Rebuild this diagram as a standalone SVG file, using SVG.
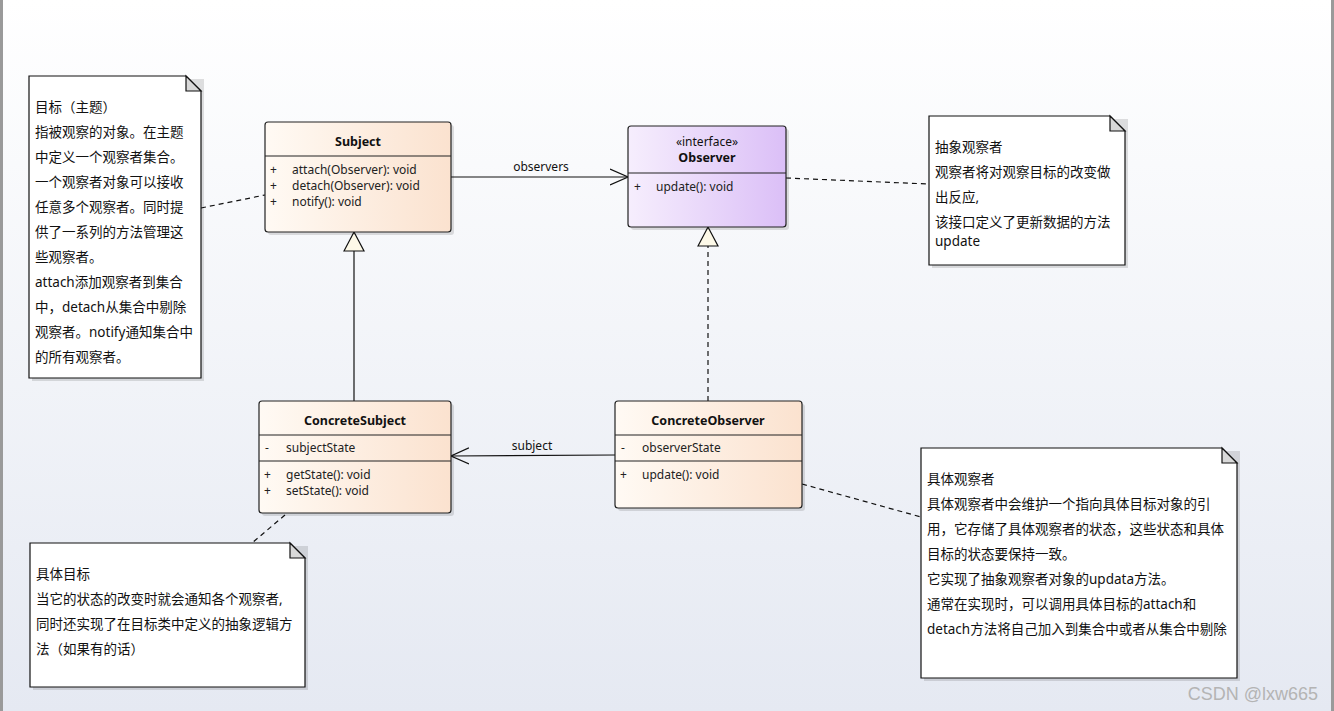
<svg xmlns="http://www.w3.org/2000/svg" width="1334" height="711" viewBox="0 0 1334 711">
<defs>
<linearGradient id="bg" x1="0" y1="0" x2="0" y2="1">
<stop offset="0" stop-color="#ffffff"/>
<stop offset="1" stop-color="#e5e9f2"/>
</linearGradient>
<linearGradient id="peach" x1="0" y1="0" x2="1" y2="0">
<stop offset="0" stop-color="#fffaf4"/>
<stop offset="1" stop-color="#fbe2cf"/>
</linearGradient>
<linearGradient id="lav" x1="0" y1="0" x2="1" y2="0">
<stop offset="0" stop-color="#f6eefd"/>
<stop offset="1" stop-color="#dbbff7"/>
</linearGradient>
<marker id="open" viewBox="0 0 20 20" refX="18" refY="10" markerWidth="20" markerHeight="20" markerUnits="userSpaceOnUse" orient="auto">
<path d="M0,2 L18,10 L0,18" fill="none" stroke="#111" stroke-width="1.3"/>
</marker>
<marker id="tri" viewBox="0 0 22 22" refX="20" refY="11" markerWidth="22" markerHeight="22" markerUnits="userSpaceOnUse" orient="auto">
<path d="M1,1 L20,11 L1,21 Z" fill="#fdf9e8" stroke="#111" stroke-width="1.2"/>
</marker>
</defs>
<style>
.cls{stroke:#222;stroke-width:1.2}
.shadow{fill:#000;opacity:0.12}
.name{font-family:"Noto Sans","Liberation Sans",sans-serif;font-size:12.5px;font-weight:bold;fill:#111;text-anchor:middle}
.st{font-family:"Noto Sans","Liberation Sans",sans-serif;font-size:12px;font-style:normal;fill:#111;text-anchor:middle}
.m{font-family:"Noto Sans","Liberation Sans",sans-serif;font-size:12px;fill:#222}
.note{fill:#fff;stroke:#111;stroke-width:1.2}
.fold{fill:#d9d9d9;stroke:#111;stroke-width:1.2}
.nt{font-family:"Noto Sans","Noto Sans CJK SC",sans-serif;font-size:13.5px;fill:#111}
.lbl{font-family:"Noto Sans","Liberation Sans",sans-serif;font-size:12px;fill:#111;text-anchor:middle}
.ln{fill:none;stroke:#111;stroke-width:1.2}
.dash{fill:none;stroke:#111;stroke-width:1.2;stroke-dasharray:5,4}
</style>
<rect width="1334" height="711" fill="url(#bg)"/>
<rect x="0" y="0" width="3" height="711" fill="#9a9a9a"/>
<rect x="1331" y="0" width="3" height="711" fill="#9a9a9a"/>

<g id="connectors">
<line class="ln" x1="451" y1="177" x2="628" y2="177" marker-end="url(#open)"/>
<text class="lbl" x="541" y="171">observers</text>
<line class="ln" x1="615" y1="455" x2="451" y2="456" marker-end="url(#open)"/>
<text class="lbl" x="532" y="450">subject</text>
<line class="ln" x1="354" y1="401" x2="354" y2="232" marker-end="url(#tri)"/>
<line class="dash" x1="708" y1="401" x2="708" y2="227" marker-end="url(#tri)"/>
<line class="dash" x1="201" y1="208" x2="265" y2="195"/>
<line class="dash" x1="786" y1="178" x2="929" y2="184"/>
<line class="dash" x1="285" y1="515" x2="252" y2="543"/>
<line class="dash" x1="802" y1="484" x2="921" y2="517"/>
</g>

<g id="subject">
<rect class="shadow" x="268" y="125" width="186" height="110" rx="3"/>
<rect class="cls" x="265" y="122" width="186" height="110" rx="3" fill="url(#peach)"/>
<line class="cls" x1="265" y1="156" x2="451" y2="156"/>
<text class="name" x="358" y="146">Subject</text>
<text class="m" x="270" y="174">+</text><text class="m" x="292" y="174">attach(Observer): void</text>
<text class="m" x="270" y="190">+</text><text class="m" x="292" y="190">detach(Observer): void</text>
<text class="m" x="270" y="206">+</text><text class="m" x="292" y="206">notify(): void</text>
</g>

<g id="observer">
<rect class="shadow" x="631" y="129" width="158" height="101" rx="3"/>
<rect class="cls" x="628" y="126" width="158" height="101" rx="3" fill="url(#lav)"/>
<line class="cls" x1="628" y1="173" x2="786" y2="173"/>
<text class="st" x="707" y="146">«interface»</text>
<text class="name" x="707" y="162">Observer</text>
<text class="m" x="634" y="191">+</text><text class="m" x="656" y="191">update(): void</text>
</g>

<g id="concreteSubject">
<rect class="shadow" x="262" y="404" width="192" height="112" rx="3"/>
<rect class="cls" x="259" y="401" width="192" height="112" rx="3" fill="url(#peach)"/>
<line class="cls" x1="259" y1="435" x2="451" y2="435"/>
<line class="cls" x1="259" y1="461" x2="451" y2="461"/>
<text class="name" x="355" y="425">ConcreteSubject</text>
<text class="m" x="265" y="452">-</text><text class="m" x="286" y="452">subjectState</text>
<text class="m" x="264" y="479">+</text><text class="m" x="286" y="479">getState(): void</text>
<text class="m" x="264" y="495">+</text><text class="m" x="286" y="495">setState(): void</text>
</g>

<g id="concreteObserver">
<rect class="shadow" x="618" y="404" width="187" height="107" rx="3"/>
<rect class="cls" x="615" y="401" width="187" height="107" rx="3" fill="url(#peach)"/>
<line class="cls" x1="615" y1="435" x2="802" y2="435"/>
<line class="cls" x1="615" y1="461" x2="802" y2="461"/>
<text class="name" x="708" y="425">ConcreteObserver</text>
<text class="m" x="621" y="452">-</text><text class="m" x="642" y="452">observerState</text>
<text class="m" x="620" y="479">+</text><text class="m" x="642" y="479">update(): void</text>
</g>

<g id="note-subject">
<rect class="shadow" x="32" y="79" width="172" height="302"/>
<path class="note" d="M29,76 L186,76 L201,91 L201,378 L29,378 Z"/>
<path class="fold" d="M186,76 L186,91 L201,91 Z"/>
<text class="nt" x="35" y="112">目标（主题）</text>
<text class="nt" x="35" y="137">指被观察的对象。在主题</text>
<text class="nt" x="35" y="162">中定义一个观察者集合。</text>
<text class="nt" x="35" y="187">一个观察者对象可以接收</text>
<text class="nt" x="35" y="212">任意多个观察者。同时提</text>
<text class="nt" x="35" y="237">供了一系列的方法管理这</text>
<text class="nt" x="35" y="262">些观察者。</text>
<text class="nt" x="35" y="287">attach添加观察者到集合</text>
<text class="nt" x="35" y="312">中，detach从集合中剔除</text>
<text class="nt" x="35" y="337">观察者。notify通知集合中</text>
<text class="nt" x="35" y="362">的所有观察者。</text>
</g>

<g id="note-observer">
<rect class="shadow" x="932" y="119" width="196" height="149"/>
<path class="note" d="M929,116 L1110,116 L1125,131 L1125,265 L929,265 Z"/>
<path class="fold" d="M1110,116 L1110,131 L1125,131 Z"/>
<text class="nt" x="935" y="152">抽象观察者</text>
<text class="nt" x="935" y="177">观察者将对观察目标的改变做</text>
<text class="nt" x="935" y="202">出反应,</text>
<text class="nt" x="935" y="227">该接口定义了更新数据的方法</text>
<text class="nt" x="935" y="246">update</text>
</g>

<g id="note-concreteSubject">
<rect class="shadow" x="33" y="546" width="275" height="144"/>
<path class="note" d="M30,543 L290,543 L305,558 L305,687 L30,687 Z"/>
<path class="fold" d="M290,543 L290,558 L305,558 Z"/>
<text class="nt" x="36" y="579">具体目标</text>
<text class="nt" x="36" y="604">当它的状态的改变时就会通知各个观察者,</text>
<text class="nt" x="36" y="629">同时还实现了在目标类中定义的抽象逻辑方</text>
<text class="nt" x="36" y="654">法（如果有的话）</text>
</g>

<g id="note-concreteObserver">
<rect class="shadow" x="924" y="451" width="316" height="230"/>
<path class="note" d="M921,448 L1222,448 L1237,463 L1237,678 L921,678 Z"/>
<path class="fold" d="M1222,448 L1222,463 L1237,463 Z"/>
<text class="nt" x="927" y="484">具体观察者</text>
<text class="nt" x="927" y="509">具体观察者中会维护一个指向具体目标对象的引</text>
<text class="nt" x="927" y="534">用，它存储了具体观察者的状态，这些状态和具体</text>
<text class="nt" x="927" y="559">目标的状态要保持一致。</text>
<text class="nt" x="927" y="584">它实现了抽象观察者对象的updata方法。</text>
<text class="nt" x="927" y="609">通常在实现时，可以调用具体目标的attach和</text>
<text class="nt" x="927" y="634">detach方法将自己加入到集合中或者从集合中剔除</text>
</g>

<text x="1318" y="700" text-anchor="end" font-family="Liberation Sans, Arial, sans-serif" font-size="18" fill="#b4b4b4">CSDN @lxw665</text>
</svg>
